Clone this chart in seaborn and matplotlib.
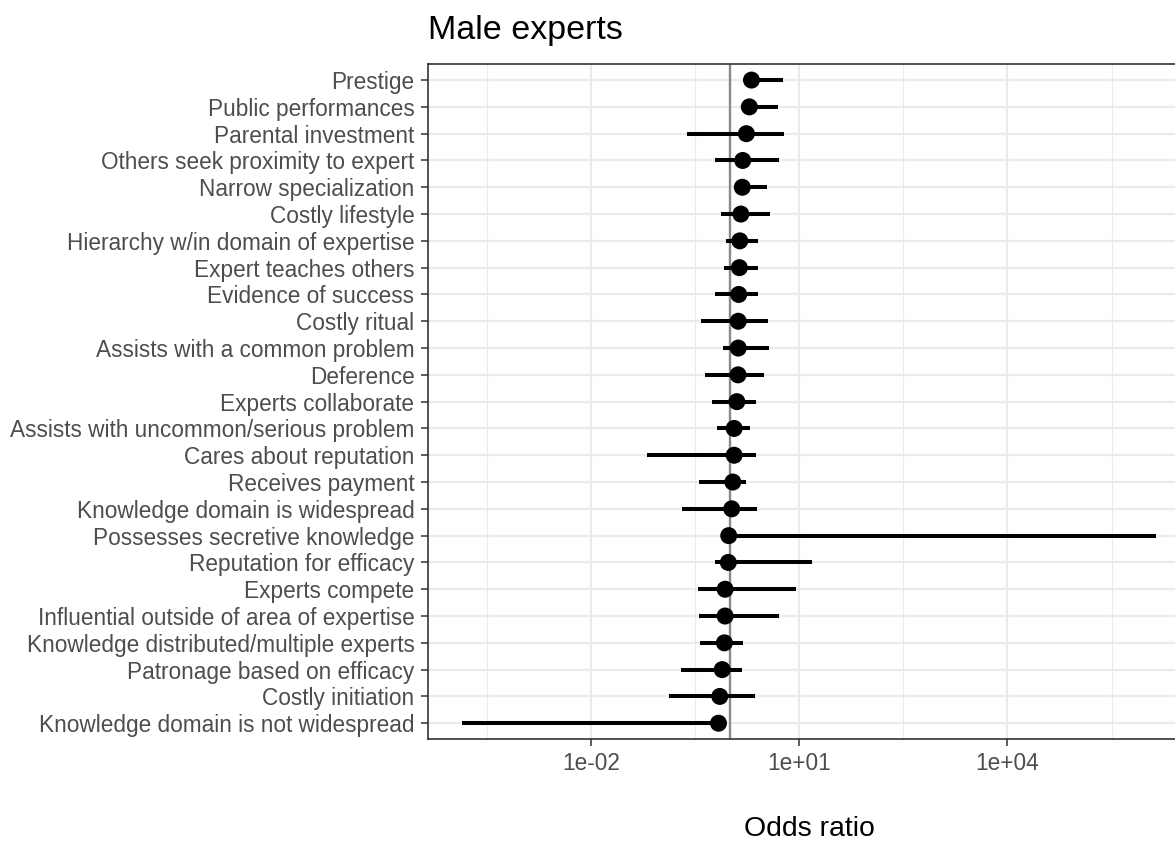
import numpy as np
import pandas as pd
import matplotlib
matplotlib.use("Agg")
import matplotlib.pyplot as plt
import seaborn as sns
from matplotlib.ticker import FixedLocator, NullFormatter

# Expertise features, listed from top to bottom of the chart
features = [
    "Prestige",
    "Public performances",
    "Parental investment",
    "Others seek proximity to expert",
    "Narrow specialization",
    "Costly lifestyle",
    "Hierarchy w/in domain of expertise",
    "Expert teaches others",
    "Evidence of success",
    "Costly ritual",
    "Assists with a common problem",
    "Deference",
    "Experts collaborate",
    "Assists with uncommon/serious problem",
    "Cares about reputation",
    "Receives payment",
    "Knowledge domain is widespread",
    "Possesses secretive knowledge",
    "Reputation for efficacy",
    "Experts compete",
    "Influential outside of area of expertise",
    "Knowledge distributed/multiple experts",
    "Patronage based on efficacy",
    "Costly initiation",
    "Knowledge domain is not widespread",
]

# Odds ratios and 95% interval bounds for male experts
odds_ratio = [2.06, 1.92, 1.74, 1.54, 1.52, 1.45, 1.40, 1.38, 1.35, 1.33,
              1.33, 1.32, 1.27, 1.16, 1.16, 1.11, 1.07, 0.97, 0.957, 0.86,
              0.86, 0.84, 0.78, 0.72, 0.69]
ci_low = [1.70, 1.60, 0.239, 0.618, 1.25, 0.762, 0.88, 0.82, 0.618, 0.39,
          0.79, 0.435, 0.555, 0.665, 0.0638, 0.362, 0.207, 0.82, 0.61, 0.35,
          0.362, 0.38, 0.198, 0.132, 1.41e-4]
ci_high = [5.96, 4.95, 6.15, 5.08, 3.40, 3.79, 2.60, 2.60, 2.60, 3.53,
           3.66, 3.12, 2.42, 1.99, 2.42, 1.74, 2.45, 1.4e6, 15.4, 9.1,
           5.08, 1.58, 1.52, 2.33, 0.80]

df = pd.DataFrame({
    "feature": features,
    "odds_ratio": odds_ratio,
    "lower": ci_low,
    "upper": ci_high,
})

sns.set_theme(style="white")
plt.rcParams["font.family"] = ["Liberation Sans", "DejaVu Sans"]

W, H = 1175, 841
fig = plt.figure(figsize=(W / 100, H / 100), dpi=100)
# panel box in pixels: left, right (runs past the canvas edge), top, bottom
px_left, px_right, px_top, px_bottom = 427.6, 1191.1, 64.0, 739.3
ax = fig.add_axes([px_left / W, (H - px_bottom) / H,
                   (px_right - px_left) / W, (px_bottom - px_top) / H])

ax.set_xscale("log")

# reference line at odds ratio of 1
ax.axvline(1, color="#8A8A8A", lw=1.7, zorder=2)

# interval lines and point estimates
ax.hlines(df["feature"], df["lower"], df["upper"], color="black",
          lw=2.9, zorder=3, capstyle="butt")
sns.scatterplot(data=df, x="odds_ratio", y="feature", ax=ax, color="black",
                s=150, edgecolor="none", linewidth=0, zorder=4, legend=False)

# log-axis limits with 5% padding around the data range
lo = np.log10(min(ci_low))
hi = np.log10(max(ci_high))
pad = 0.05 * (hi - lo)
ax.set_xlim(10 ** (lo - pad), 10 ** (hi + pad))
n = len(features)
ax.set_ylim(n - 1 + 0.6, -0.6)

ax.set_xticks([1e-2, 1e1, 1e4])
ax.set_xticklabels(["1e-02", "1e+01", "1e+04"])
ax.xaxis.set_minor_locator(FixedLocator([10 ** -3.5, 10 ** -0.5, 10 ** 2.5, 10 ** 5.5]))
ax.xaxis.set_minor_formatter(NullFormatter())

ax.set_axisbelow(True)
ax.grid(which="major", axis="both", color="#EBEBEB", lw=1.6)
ax.grid(which="minor", axis="x", color="#EBEBEB", lw=0.8)

for sp in ax.spines.values():
    sp.set_visible(True)
    sp.set_color("#333333")
    sp.set_linewidth(1.2)

ax.tick_params(axis="both", which="major", length=5, width=1.1,
               color="#333333", labelcolor="#4D4D4D", labelsize=16.3,
               bottom=True, left=True)
ax.tick_params(axis="x", which="major", pad=4)
ax.tick_params(axis="y", which="major", pad=4.5)
ax.tick_params(axis="x", which="minor", length=0)

ax.set_ylabel("")
ax.set_xlabel("Odds ratio", fontsize=20.4, color="black", labelpad=30)
ax.set_title("Male experts", loc="left", fontsize=24.5, color="black", pad=18)

fig.savefig("out.png", dpi=100)
